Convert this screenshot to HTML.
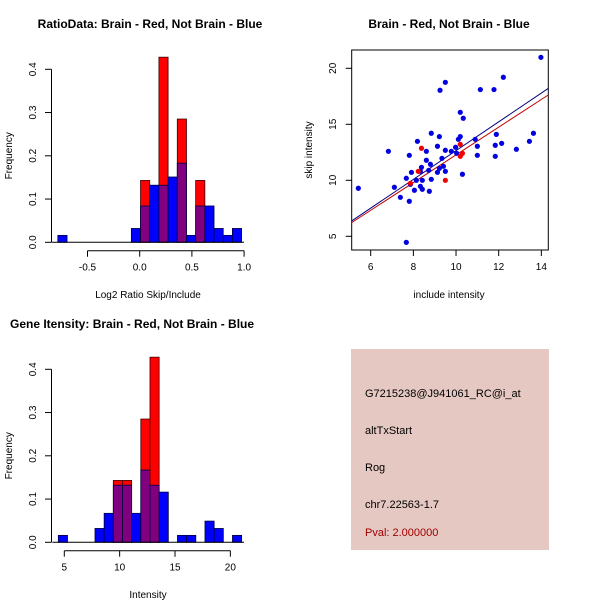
<!DOCTYPE html>
<html><head><meta charset="utf-8"><style>
body{margin:0;background:#fff}
svg{display:block;font-family:"Liberation Sans",Arial,sans-serif}
</style></head><body>
<svg id="c" width="600" height="600" viewBox="0 0 600 600">
<rect x="0" y="0" width="600" height="600" fill="#fff"/>
<g id="p1"></g>
<g id="p2"></g>
<g id="p3"></g>
<g>
<rect x="351" y="349" width="198" height="201" fill="#e6c8c2"/>
<text x="365" y="397" font-size="11" fill="#000">G7215238@J941061_RC@i_at</text>
<text x="365" y="434" font-size="11" fill="#000">altTxStart</text>
<text x="365" y="471" font-size="11" fill="#000">Rog</text>
<text x="365" y="508" font-size="11" fill="#000">chr7.22563-1.7</text>
<text x="365" y="536" font-size="11" fill="#a00000">Pval: 2.000000</text>
</g>
</svg>
<script>
// ---- Histogram 1 (ratio) ----
const ratioBinStart = -0.08;
const ratioBinWidth = 0.088;
const ratioBinIdx = [-8,0,1,2,3,4,5,6,7,8,9,10,11];
const ratioBlue = [0.016,0.032,0.084,0.132,0.132,0.151,0.183,0.016,0.084,0.084,0.032,0.016,0.032];
const ratioRed  = [0,0,0.143,0,0.428,0,0.285,0,0.143,0,0,0,0];
const ratioXTicks = [-0.5,0,0.5,1];
const ratioXLabels = ["-0.5","0.0","0.5","1.0"];
const freqTicks = [0,0.1,0.2,0.3,0.4];
const freqLabels = ["0.0","0.1","0.2","0.3","0.4"];
// ---- Histogram 2 (intensity) ----
const intBinStart = 4.46;
const intBinWidth = 0.828;
const intBinIdx = [0,4,5,6,7,8,9,10,11,13,14,16,17,19];
const intBlue = [0.016,0.032,0.067,0.132,0.132,0.067,0.167,0.132,0.116,0.016,0.016,0.049,0.032,0.016];
const intRed  = [0,0,0,0.143,0.143,0,0.285,0.428,0,0,0,0,0,0];
const intXTicks = [5,10,15,20];
const intXLabels = ["5","10","15","20"];
// ---- Scatter ----
const blueX = [13.98,12.22,9.5,9.25,11.14,11.78,10.2,10.34,8.84,9.22,10.11,10.2,10.9,11.89,13.63,13.44,12.14,11.84,12.83,11.0,11.0,11.84,8.19,6.83,7.81,8.61,9.13,9.5,9.78,9.98,10.03,8.61,9.34,8.8,8.38,8.72,9.22,9.41,9.13,9.5,10.3,7.91,8.33,7.67,8.14,8.42,8.84,7.86,8.33,8.42,8.05,8.75,7.11,7.39,7.81,5.42,7.67];
const blueY = [20.98,19.2,18.75,18.04,18.1,18.1,16.07,15.54,14.2,13.9,13.66,13.9,13.66,14.1,14.2,13.48,13.3,13.13,12.77,13.04,12.23,12.14,13.48,12.59,12.23,12.59,13.04,12.68,12.59,12.95,12.41,11.79,11.96,11.43,11.16,10.89,11.07,11.25,10.71,10.8,10.54,10.71,10.8,10.18,10.0,10.0,10.09,9.64,9.46,9.2,9.11,9.02,9.38,8.48,8.13,9.29,4.46];
const redX = [8.38,10.2,10.3,10.2,9.5,8.23,7.86];
const redY = [12.86,13.21,12.41,12.14,10.0,10.8,9.73];
const blueFit = [-0.19,1.284];
const redFit = [-0.10,1.237];
const scXTicks = [6,8,10,12,14];
const scYTicks = [5,10,15,20];

const NS="http://www.w3.org/2000/svg";
function mk(parent,tag,attrs,txt){const e=document.createElementNS(NS,tag);for(const k in attrs)e.setAttribute(k,attrs[k]);if(txt!==undefined)e.textContent=txt;parent.appendChild(e);return e;}

function hist(g,yOff,binStart,binW,idx,blue,red,xs,xl,x0px,pxPerUnit,title,xlab,titleX,titleAnchor){
  const X=v=>x0px+(v)*pxPerUnit;
  const Y=v=>yOff+242.3-v*432.5;
  const t=mk(g,'text',{x:titleX,y:yOff+28,'font-size':12,'font-weight':'bold','text-anchor':titleAnchor},title);
  
  
  for(let i=0;i<idx.length;i++){
    const l=X(binStart+idx[i]*binW), r=X(binStart+(idx[i]+1)*binW);
    const b=blue[i], rd=red[i], m=Math.min(b,rd);
    if(rd>0){const e=mk(g,'rect',{x:l,y:Y(rd),width:r-l,height:Y(0)-Y(rd),fill:'#ff0000',stroke:'#400000','stroke-width':0.8});
      
      }
    if(b>0){const e=mk(g,'rect',{x:l,y:Y(b),width:r-l,height:Y(0)-Y(b),fill:b<=rd?'#800080':'#0000ff',stroke:'#000040','stroke-width':0.8});
      
      }
    if(m>0&&b>rd){const e=mk(g,'rect',{x:l,y:Y(m),width:r-l,height:Y(0)-Y(m),fill:'#800080',stroke:'#300030','stroke-width':0.8});
      
      }
  }
  const base=mk(g,'line',{x1:X(binStart-8*binW)-6,x2:244,y1:Y(0),y2:Y(0),stroke:'#000','stroke-width':1});
  if(idx[0]===0) base.setAttribute('x1',X(binStart)-6);
  // y axis
  const ya=mk(g,'g',{});
  
  
  mk(ya,'line',{x1:51.5,x2:51.5,y1:Y(0),y2:Y(0.4),stroke:'#000'});
  freqTicks.forEach((v,i)=>{mk(ya,'line',{x1:45,x2:51.5,y1:Y(v),y2:Y(v),stroke:'#000'});
    mk(ya,'text',{x:0,y:0,'font-size':10,'text-anchor':'middle',transform:`translate(36,${Y(v)}) rotate(-90)`},freqLabels[i]);});
  const yt=mk(g,'text',{x:0,y:0,'font-size':10,'text-anchor':'middle',transform:`translate(12,${Y(0.2)}) rotate(-90)`},'Frequency');
  
  
  const xa=mk(g,'g',{});
  
  
  const ax=yOff+250.7;
  mk(xa,'line',{x1:X(xs[0]),x2:X(xs[xs.length-1]),y1:ax,y2:ax,stroke:'#000'});
  xs.forEach((v,i)=>{mk(xa,'line',{x1:X(v),x2:X(v),y1:ax,y2:ax+6,stroke:'#000'});
    mk(xa,'text',{x:X(v),y:ax+20,'font-size':10,'text-anchor':'middle'},xl[i]);});
  const xt=mk(g,'text',{x:148,y:yOff+298,'font-size':10,'text-anchor':'middle'},xlab);
  
  
}
hist(document.getElementById('p1'),0,ratioBinStart,ratioBinWidth,ratioBinIdx,ratioBlue,ratioRed,ratioXTicks,ratioXLabels,139.7,104.4,'RatioData: Brain - Red, Not Brain - Blue','Log2 Ratio Skip/Include',150,'middle');
hist(document.getElementById('p3'),300,intBinStart,intBinWidth,intBinIdx,intBlue,intRed,intXTicks,intXLabels,64.3-5*11.07,11.07,'Gene Itensity: Brain - Red, Not Brain - Blue','Intensity',10,'start');

// scatter
(function(){
  const g=document.getElementById('p2');
  const X=v=>370.7+(v-6)*21.33;
  const Y=v=>236.3-(v-5)*11.2;
  const t=mk(g,'text',{x:449,y:28,'font-size':12,'font-weight':'bold','text-anchor':'middle'},'Brain - Red, Not Brain - Blue');
  
  
  const box=mk(g,'rect',{x:351.7,y:50,width:196.6,height:200,fill:'none',stroke:'#000'});
  
  
  const xa=mk(g,'g',{});
  
  
  scXTicks.forEach(v=>{mk(xa,'line',{x1:X(v),x2:X(v),y1:250,y2:256,stroke:'#000'});mk(xa,'text',{x:X(v),y:270,'font-size':10,'text-anchor':'middle'},String(v));});
  const ya=mk(g,'g',{});
  
  
  scYTicks.forEach(v=>{mk(ya,'line',{x1:345.7,x2:351.7,y1:Y(v),y2:Y(v),stroke:'#000'});mk(ya,'text',{x:0,y:0,'font-size':10,'text-anchor':'middle',transform:`translate(336,${Y(v)}) rotate(-90)`},String(v));});
  const xt=mk(g,'text',{x:449,y:298,'font-size':10,'text-anchor':'middle'},'include intensity');
  
  
  const yt=mk(g,'text',{x:0,y:0,'font-size':10,'text-anchor':'middle',transform:`translate(312,150) rotate(-90)`},'skip intensity');
  
  
  const x0=5.11,x1=14.33;
  const bl=mk(g,'line',{x1:X(x0),x2:X(x1),y1:Y(blueFit[0]+blueFit[1]*x0),y2:Y(blueFit[0]+blueFit[1]*x1),stroke:'#000080','stroke-width':1});
  
  
  const rl=mk(g,'line',{x1:X(x0),x2:X(x1),y1:Y(redFit[0]+redFit[1]*x0),y2:Y(redFit[0]+redFit[1]*x1),stroke:'#c00000','stroke-width':1});
  
  
  blueX.forEach((v,i)=>{const c=mk(g,'circle',{cx:X(v),cy:Y(blueY[i]),r:2.6,fill:'#0000e0'});
    
    });
  redX.forEach((v,i)=>{const c=mk(g,'circle',{cx:X(v),cy:Y(redY[i]),r:2.6,fill:'#f00000'});
    
    });
})();
</script>
</body></html>
